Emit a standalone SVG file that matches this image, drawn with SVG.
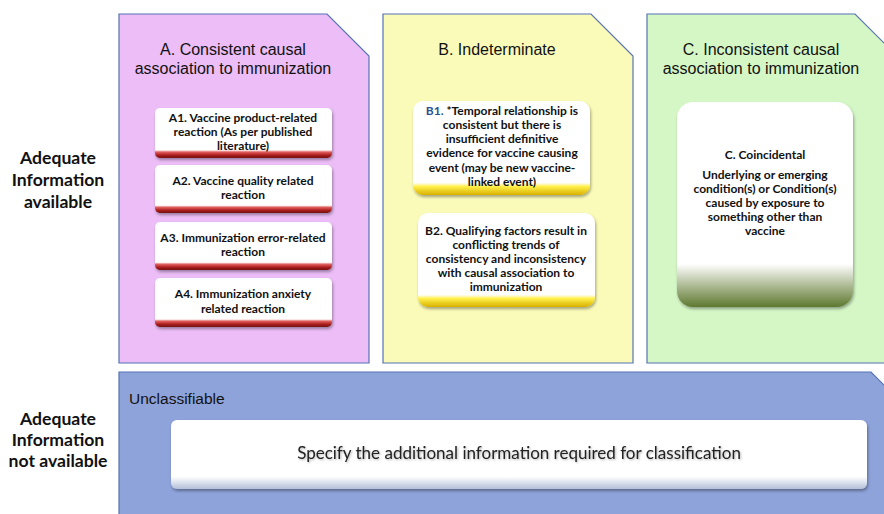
<svg xmlns="http://www.w3.org/2000/svg" width="884" height="514" viewBox="0 0 884 514">
<style>
.panel{stroke:#5573b5;stroke-width:1.2}
.lbl{font-family:Lato,"Liberation Sans",sans-serif;font-weight:bold;font-size:17.6px;fill:#111;text-anchor:middle}
.ttl{font-family:"Liberation Sans",Arial,sans-serif;font-size:16px;fill:#111;text-anchor:middle}
.bx{font-family:Lato,"Liberation Sans",sans-serif;font-weight:bold;font-size:12px;fill:#111;text-anchor:middle}
.spec{font-family:Lato,"Liberation Sans",sans-serif;font-size:17px;fill:#222;text-anchor:middle}
</style>
<defs>
<filter id="sh" x="-10%" y="-10%" width="120%" height="130%">
<feDropShadow dx="1" dy="2" stdDeviation="1.5" flood-color="#000" flood-opacity="0.35"/>
</filter>
<filter id="tsh" x="-5%" y="-30%" width="110%" height="160%">
<feDropShadow dx="1" dy="1" stdDeviation="0.8" flood-color="#000" flood-opacity="0.3"/>
</filter>
<linearGradient id="gA" x1="0" y1="0" x2="0" y2="1">
<stop offset="0" stop-color="#fff"/><stop offset="0.84" stop-color="#fff"/>
<stop offset="0.88" stop-color="#e06060"/><stop offset="0.94" stop-color="#b02020"/><stop offset="1" stop-color="#701010"/>
</linearGradient>
<linearGradient id="gB" x1="0" y1="0" x2="0" y2="1">
<stop offset="0" stop-color="#fff"/><stop offset="0.87" stop-color="#fff"/>
<stop offset="0.91" stop-color="#fff04a"/><stop offset="1" stop-color="#d8b000"/>
</linearGradient>
<linearGradient id="gC" x1="0" y1="0" x2="0" y2="1">
<stop offset="0" stop-color="#fff"/><stop offset="0.79" stop-color="#fff"/>
<stop offset="0.9" stop-color="#aab890"/><stop offset="1" stop-color="#5e7830"/>
</linearGradient>
<linearGradient id="gU" x1="0" y1="0" x2="0" y2="1">
<stop offset="0" stop-color="#fff"/><stop offset="0.82" stop-color="#fff"/><stop offset="1" stop-color="#b4c0da"/>
</linearGradient>
</defs>

<g id="row-labels">
<text class="lbl" x="58" y="164">Adequate</text>
<text class="lbl" x="58" y="186">Information</text>
<text class="lbl" x="58" y="208">available</text>
<text class="lbl" x="58" y="425">Adequate</text>
<text class="lbl" x="58" y="446">Information</text>
<text class="lbl" x="58" y="467">not available</text>
</g>

<g id="panel-A">
<polygon class="panel" fill="#ecbdf7" points="119,14 327,14 369,56 369,363 119,363"/>
<text class="ttl" x="233" y="55">A. Consistent causal</text>
<text class="ttl" x="233" y="74">association to immunization</text>
</g>
<g id="A1">
<rect x="155" y="108" width="177" height="50" rx="5" fill="url(#gA)" filter="url(#sh)"/>
<text class="bx" x="243" y="122">A1. Vaccine product-related</text>
<text class="bx" x="243" y="136">reaction (As per published</text>
<text class="bx" x="243" y="150">literature)</text>
</g>
<g id="A2">
<rect x="155" y="165" width="177" height="48" rx="5" fill="url(#gA)" filter="url(#sh)"/>
<text class="bx" x="243" y="185">A2. Vaccine quality related</text>
<text class="bx" x="243" y="199">reaction</text>
</g>
<g id="A3">
<rect x="155" y="222" width="177" height="48" rx="5" fill="url(#gA)" filter="url(#sh)"/>
<text class="bx" x="243" y="242">A3. Immunization error-related</text>
<text class="bx" x="243" y="256">reaction</text>
</g>
<g id="A4">
<rect x="155" y="278" width="177" height="49" rx="5" fill="url(#gA)" filter="url(#sh)"/>
<text class="bx" x="243" y="298">A4. Immunization anxiety</text>
<text class="bx" x="243" y="313">related reaction</text>
</g>

<g id="panel-B">
<polygon class="panel" fill="#fbfbb9" points="383,14 591,14 633,56 633,363 383,363"/>
<text class="ttl" x="497" y="55">B. Indeterminate</text>
</g>
<g id="B1">
<rect x="413" y="101" width="177" height="94" rx="10" fill="url(#gB)" filter="url(#sh)"/>
<text class="bx" x="502" y="115"><tspan fill="#2e4f8f">B1.</tspan> *Temporal relationship is</text>
<text class="bx" x="502" y="129">consistent but there is</text>
<text class="bx" x="502" y="143">insufficient definitive</text>
<text class="bx" x="502" y="157">evidence for vaccine causing</text>
<text class="bx" x="502" y="172">event (may be new vaccine-</text>
<text class="bx" x="502" y="186">linked event)</text>
</g>
<g id="B2">
<rect x="418" y="213" width="177" height="94" rx="10" fill="url(#gB)" filter="url(#sh)"/>
<text class="bx" x="506" y="235">B2. Qualifying factors result in</text>
<text class="bx" x="506" y="249">conflicting trends of</text>
<text class="bx" x="506" y="263">consistency and inconsistency</text>
<text class="bx" x="506" y="277">with causal association to</text>
<text class="bx" x="506" y="291">immunization</text>
</g>

<g id="panel-C">
<polygon class="panel" fill="#d5f7c6" points="647,14 855,14 905,64 905,363 647,363"/>
<text class="ttl" x="761" y="55">C. Inconsistent causal</text>
<text class="ttl" x="761" y="74">association to immunization</text>
</g>
<g id="C-box">
<rect x="677" y="102" width="176" height="205" rx="16" fill="url(#gC)" filter="url(#sh)"/>
<text class="bx" x="765" y="159">C. Coincidental</text>
<text class="bx" x="765" y="179">Underlying  or emerging</text>
<text class="bx" x="765" y="193">condition(s) or Condition(s)</text>
<text class="bx" x="765" y="207">caused by exposure to</text>
<text class="bx" x="765" y="221">something  other than</text>
<text class="bx" x="765" y="235">vaccine</text>
</g>

<g id="panel-U">
<polygon class="panel" fill="#8ea3da" points="119,372 871,372 930,431 930,520 119,520"/>
<text x="129" y="404" font-family="'Liberation Sans',Arial,sans-serif" font-size="15.5px" fill="#111">Unclassifiable</text>
</g>
<g id="U-box">
<rect x="171" y="420" width="696" height="69" rx="6" fill="url(#gU)" filter="url(#sh)"/>
<text class="spec" x="519" y="459" filter="url(#tsh)">Specify the additional information required for classification</text>
</g>

<g id="connectors"></g>
</svg>
